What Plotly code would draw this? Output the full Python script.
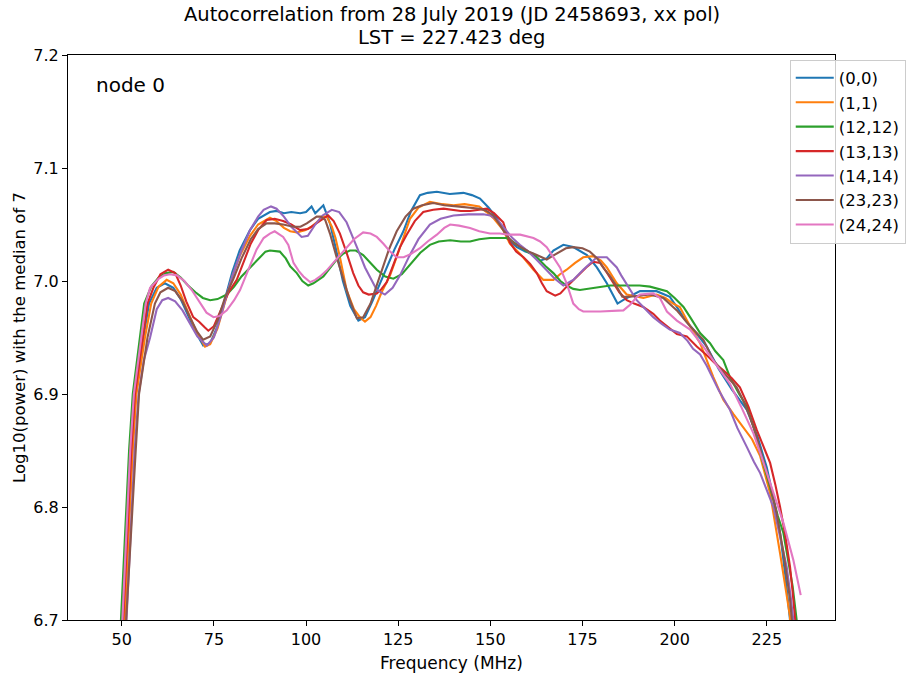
import plotly.graph_objects as go

# ---------------- data ----------------
labels = ["(0,0)", "(1,1)", "(12,12)", "(13,13)", "(14,14)", "(23,23)", "(24,24)"]
colors = ["#1f77b4", "#ff7f0e", "#2ca02c", "#d62728", "#9467bd", "#8c564b", "#e377c2"]

freq_0 = [50.3, 50.6, 52.8, 53.8, 55.9, 57.4, 59.5, 61.7, 64, 66, 68, 70, 72.1, 74, 76, 78, 80, 82, 84.8, 87, 90.2, 92, 94, 96, 98.4, 100, 101.5, 102.5, 103.5, 104.7, 105.5, 106.5, 108, 110, 112, 114.2, 116, 118, 121, 124, 126.4, 128.5, 130.9, 133, 135.5, 139, 142.7, 145, 147.2, 149.5, 151.7, 153.5, 155.3, 157.2, 159.5, 161.7, 163.5, 165.3, 167.1, 169.8, 172.5, 176.2, 178.9, 181.6, 184.5, 187, 190.6, 195.1, 198.7, 200.6, 203, 205.1, 208.7, 212, 215.5, 219.6, 222.5, 225, 227, 228.6, 230, 231.3, 231.6]
pow_0 = [6.68, 6.70, 6.85, 6.90, 6.95, 6.98, 6.994, 6.998, 6.994, 6.984, 6.970, 6.955, 6.943, 6.945, 6.960, 6.985, 7.008, 7.027, 7.045, 7.055, 7.061, 7.062, 7.060, 7.061, 7.060, 7.061, 7.066, 7.060, 7.063, 7.067, 7.060, 7.051, 7.030, 7.000, 6.978, 6.965, 6.968, 6.982, 7.005, 7.028, 7.044, 7.062, 7.076, 7.078, 7.079, 7.077, 7.078, 7.076, 7.073, 7.065, 7.056, 7.045, 7.035, 7.030, 7.026, 7.024, 7.018, 7.020, 7.027, 7.032, 7.030, 7.023, 7.012, 6.998, 6.980, 6.985, 6.991, 6.991, 6.986, 6.977, 6.965, 6.957, 6.942, 6.922, 6.904, 6.886, 6.862, 6.835, 6.805, 6.777, 6.74, 6.70, 6.68]

freq_1 = [50.5, 50.8, 53.0, 54.0, 56.3, 58.0, 60, 62.2, 64, 66, 68, 70, 72.6, 74, 76, 78, 80, 82, 84.8, 87, 90.2, 92, 94, 95.7, 97.5, 99.7, 101.5, 102.9, 104.5, 105.6, 107, 108, 109.2, 111, 113, 114.6, 116, 117.5, 119, 120.5, 122.8, 125, 128.2, 130.5, 133.6, 137, 140, 143, 145.4, 147, 149, 151, 153.5, 155.3, 158.1, 161.7, 164.4, 167.1, 168.9, 170.7, 173, 175.2, 177.9, 180, 181.6, 184.3, 187, 191.5, 195.1, 197.5, 199.6, 201.4, 204.2, 206.9, 210.5, 213.2, 216, 218.6, 221, 223.2, 225.9, 228.6, 230, 231.3, 231.5]
pow_1 = [6.68, 6.70, 6.85, 6.90, 6.95, 6.98, 6.995, 7.001, 6.998, 6.988, 6.973, 6.957, 6.942, 6.944, 6.958, 6.982, 7.004, 7.022, 7.040, 7.050, 7.056, 7.053, 7.047, 7.044, 7.043, 7.045, 7.048, 7.052, 7.057, 7.057, 7.048, 7.038, 7.021, 6.992, 6.975, 6.968, 6.964, 6.968, 6.978, 6.990, 7.005, 7.025, 7.055, 7.065, 7.070, 7.068, 7.067, 7.068, 7.067, 7.066, 7.061, 7.055, 7.045, 7.033, 7.024, 7.010, 7.001, 7.001, 7.006, 7.010, 7.016, 7.021, 7.022, 7.018, 7.012, 6.998, 6.988, 6.985, 6.988, 6.985, 6.980, 6.977, 6.960, 6.945, 6.915, 6.895, 6.882, 6.871, 6.860, 6.845, 6.812, 6.759, 6.730, 6.703, 6.68]

freq_12 = [49.5, 49.8, 52.0, 53.0, 55.0, 56.1, 58, 60, 62, 64, 66, 68, 70, 72, 74, 76, 78.5, 80.5, 82.5, 84.8, 87, 89, 90.2, 92.9, 94.5, 95.7, 97.5, 99, 100.6, 102, 104.7, 106.5, 108.3, 110, 111.9, 113.5, 115.5, 117.5, 119.2, 121.5, 123.7, 126, 128.2, 131, 133.6, 136, 139.1, 142, 144.5, 147, 149.9, 152.6, 154.4, 156, 158.1, 160, 162.6, 165, 167.1, 169, 170.7, 172.5, 174.3, 177.9, 182.5, 187.9, 190.5, 193.3, 195.5, 197.9, 200, 202.4, 204.2, 206.9, 209.6, 211, 213.2, 215, 217.5, 219.6, 221.5, 223.2, 225, 226.8, 228, 229.5, 231, 232, 233.1, 233.3]
pow_12 = [6.68, 6.70, 6.85, 6.90, 6.95, 6.98, 6.995, 7.003, 7.007, 7.008, 7.003, 6.996, 6.990, 6.985, 6.983, 6.984, 6.988, 6.995, 7.004, 7.012, 7.020, 7.026, 7.027, 7.026, 7.020, 7.013, 7.007, 7.000, 6.996, 6.998, 7.004, 7.012, 7.019, 7.024, 7.027, 7.027, 7.023, 7.016, 7.010, 7.004, 7.002, 7.006, 7.014, 7.025, 7.032, 7.035, 7.036, 7.035, 7.035, 7.037, 7.038, 7.038, 7.038, 7.035, 7.030, 7.026, 7.021, 7.013, 7.007, 7.000, 6.996, 6.993, 6.992, 6.994, 6.996, 6.996, 6.996, 6.995, 6.993, 6.991, 6.985, 6.977, 6.968, 6.954, 6.945, 6.938, 6.930, 6.915, 6.900, 6.889, 6.870, 6.848, 6.828, 6.806, 6.792, 6.777, 6.75, 6.73, 6.70, 6.68]

freq_13 = [50.1, 50.4, 52.6, 53.6, 55.7, 57.0, 58.6, 60.5, 62.6, 64.5, 66, 67.5, 69.4, 71, 72.5, 73.5, 75, 77, 79, 81.2, 83, 85, 87, 89.3, 91.5, 93.8, 96, 98.4, 100.5, 102.9, 104.5, 106, 107.5, 109.2, 111, 112.8, 114.2, 115.5, 117, 119.2, 120.5, 121.9, 124, 125.5, 127.3, 129.5, 131.8, 134.5, 137.3, 140, 142, 144.5, 147, 149, 151, 153.5, 154.5, 155.3, 157, 159, 160.8, 162.6, 164, 165.3, 167.6, 169, 170.7, 172.5, 174.3, 176, 177.9, 179.8, 181.5, 183.4, 185, 187, 189, 191.5, 194.2, 196, 198, 200.6, 203.3, 206, 208.5, 211, 213.2, 215.5, 217.7, 220, 222.3, 224, 225.9, 227.3, 228.6, 230, 231.3, 232, 232.7, 232.9]
pow_13 = [6.68, 6.70, 6.85, 6.90, 6.95, 6.98, 6.994, 7.006, 7.010, 7.007, 6.996, 6.982, 6.968, 6.964, 6.959, 6.956, 6.960, 6.975, 6.990, 7.001, 7.017, 7.033, 7.045, 7.054, 7.055, 7.053, 7.050, 7.045, 7.046, 7.051, 7.055, 7.058, 7.053, 7.042, 7.025, 7.007, 6.996, 6.990, 6.988, 6.989, 6.993, 6.999, 7.017, 7.030, 7.041, 7.053, 7.061, 7.063, 7.064, 7.063, 7.062, 7.062, 7.063, 7.064, 7.060, 7.052, 7.042, 7.034, 7.026, 7.021, 7.015, 7.007, 6.998, 6.991, 6.987, 6.989, 6.995, 7.001, 7.007, 7.012, 7.017, 7.016, 7.008, 6.998, 6.990, 6.983, 6.980, 6.977, 6.971, 6.965, 6.960, 6.953, 6.951, 6.942, 6.935, 6.927, 6.921, 6.914, 6.906, 6.889, 6.868, 6.855, 6.839, 6.82, 6.800, 6.775, 6.747, 6.725, 6.70, 6.68]

freq_14 = [50.9, 51.3, 53.5, 54.6, 56, 57.7, 59.5, 61, 62.6, 64.5, 66.5, 68.5, 70.5, 73.1, 75, 77, 78.5, 80.3, 82.5, 84.8, 87, 88.5, 90.5, 92, 94, 96, 98.8, 100.5, 102.5, 104.5, 107, 109, 111, 113.8, 116, 119.2, 121.4, 123.5, 125.5, 128, 130.5, 133.6, 136.5, 140, 144, 148.1, 150, 152, 154, 156, 158, 160, 162.5, 165.3, 167.5, 169.8, 172.5, 175.2, 178.9, 181.6, 184.3, 185.5, 187.5, 189.7, 191.5, 194.2, 196.5, 198.7, 201.4, 203.5, 205, 206.9, 208.7, 210.5, 212, 215, 217, 219.6, 221.5, 223.2, 225, 226.8, 228.5, 230.4, 231.5, 232.2, 232.4]
pow_14 = [6.68, 6.70, 6.85, 6.90, 6.93, 6.95, 6.975, 6.983, 6.985, 6.982, 6.974, 6.963, 6.951, 6.943, 6.950, 6.970, 6.988, 7.007, 7.027, 7.045, 7.057, 7.063, 7.066, 7.064, 7.057, 7.048, 7.039, 7.040, 7.050, 7.058, 7.063, 7.061, 7.052, 7.030, 7.012, 6.992, 6.988, 6.994, 7.005, 7.022, 7.037, 7.050, 7.055, 7.058, 7.059, 7.059, 7.058, 7.054, 7.046, 7.038, 7.032, 7.027, 7.019, 7.010, 7.002, 6.996, 7.001, 7.010, 7.021, 7.021, 7.012, 7.005, 6.995, 6.983, 6.977, 6.968, 6.962, 6.957, 6.954, 6.947, 6.940, 6.935, 6.925, 6.913, 6.903, 6.886, 6.870, 6.853, 6.840, 6.830, 6.815, 6.800, 6.775, 6.747, 6.72, 6.70, 6.68]

freq_23 = [50.9, 51.2, 53.8, 54.7, 57.0, 59, 60.5, 62.6, 64.5, 66.5, 68.5, 70.5, 72.1, 74, 76, 78, 80.3, 82.5, 85, 87, 89.3, 91.5, 93.8, 96.6, 98.5, 100.2, 102.9, 104, 105.2, 106.5, 108.3, 110, 111.9, 113.8, 115.5, 117.5, 120.1, 122.5, 124.6, 127, 129.1, 131.5, 134.5, 137.5, 140.9, 144, 147.2, 149, 150.8, 152.5, 154.5, 156.5, 158.1, 160.5, 162.6, 165.3, 166.8, 168.9, 170.5, 172.5, 175, 177, 179, 180.6, 182.5, 184.3, 185.8, 187.9, 190.5, 193.3, 196.9, 198.5, 200.6, 204.2, 207.8, 210.5, 213.5, 216.8, 218.5, 220.4, 222, 224, 226, 227.7, 229.5, 231.3, 231.8, 232]
pow_23 = [6.68, 6.70, 6.85, 6.90, 6.95, 6.98, 6.990, 6.994, 6.991, 6.982, 6.968, 6.955, 6.948, 6.951, 6.965, 6.985, 7.002, 7.020, 7.037, 7.046, 7.051, 7.051, 7.050, 7.048, 7.048, 7.051, 7.057, 7.057, 7.054, 7.042, 7.021, 7.002, 6.983, 6.967, 6.968, 6.980, 7.005, 7.028, 7.044, 7.057, 7.064, 7.067, 7.069, 7.067, 7.066, 7.065, 7.064, 7.062, 7.058, 7.050, 7.040, 7.033, 7.030, 7.026, 7.023, 7.019, 7.022, 7.026, 7.029, 7.030, 7.029, 7.026, 7.020, 7.012, 7.004, 6.995, 6.986, 6.986, 6.987, 6.988, 6.985, 6.980, 6.974, 6.960, 6.948, 6.930, 6.918, 6.906, 6.895, 6.880, 6.865, 6.842, 6.818, 6.794, 6.760, 6.718, 6.70, 6.68]

freq_24 = [49.9, 50.2, 52.3, 53.3, 55.4, 56.5, 57.7, 60, 61.5, 63.1, 65, 67, 69, 71, 73, 74.9, 76.5, 78.5, 80.5, 82.1, 84, 86.6, 88.5, 90.2, 91.5, 93.8, 95.2, 95.8, 96.6, 98, 99.3, 101.1, 102.5, 103.8, 105.5, 107.4, 109, 111, 113, 115.5, 117.5, 119.2, 121, 122.8, 124.6, 126.5, 128.5, 130.9, 133, 135.5, 137.5, 139.1, 141.5, 144.5, 147, 149.9, 152.6, 155, 158.1, 161.7, 163.5, 165.3, 167, 168.9, 170.7, 172.5, 174, 175.2, 179.8, 184.3, 186.1, 187.9, 189.5, 190.6, 194.2, 196, 197.9, 200.6, 204.2, 207.8, 210.5, 213, 215, 218, 221.4, 223.5, 225.9, 229.5, 232.2, 234.2]
pow_24 = [6.68, 6.70, 6.85, 6.90, 6.95, 6.98, 6.994, 7.002, 7.005, 7.006, 7.005, 7.000, 6.992, 6.982, 6.972, 6.968, 6.969, 6.974, 6.983, 6.992, 7.007, 7.028, 7.038, 7.042, 7.044, 7.039, 7.032, 7.026, 7.016, 7.009, 7.004, 6.999, 7.001, 7.004, 7.009, 7.016, 7.022, 7.030, 7.037, 7.043, 7.042, 7.039, 7.033, 7.026, 7.021, 7.021, 7.024, 7.029, 7.035, 7.041, 7.047, 7.050, 7.049, 7.047, 7.044, 7.042, 7.042, 7.041, 7.041, 7.038, 7.035, 7.030, 7.022, 7.012, 6.998, 6.980, 6.975, 6.973, 6.973, 6.974, 6.974, 6.979, 6.985, 6.988, 6.989, 6.985, 6.973, 6.965, 6.957, 6.942, 6.930, 6.918, 6.909, 6.889, 6.865, 6.845, 6.821, 6.786, 6.753, 6.722]

freqs = [freq_0, freq_1, freq_12, freq_13, freq_14, freq_23, freq_24]
powers = [pow_0, pow_1, pow_12, pow_13, pow_14, pow_23, pow_24]

x_ticks = [50, 75, 100, 125, 150, 175, 200, 225]
y_ticks = [6.7, 6.8, 6.9, 7.0, 7.1, 7.2]

title_line1 = "Autocorrelation from 28 July 2019 (JD 2458693, xx pol)"
title_line2 = "LST = 227.423 deg"
FONT = "DejaVu Sans"

# ---------------- figure ----------------
fig = go.Figure()
for i, (f, p) in enumerate(zip(freqs, powers)):
    fig.add_trace(go.Scatter(
        x=f, y=p, mode="lines", name=labels[i], legendgroup=labels[i],
        line=dict(color=colors[i], width=2.1),
    ))

axis_common = dict(
    showline=True, mirror=True, linecolor="black", linewidth=1.1,
    ticks="outside", ticklen=5, tickwidth=1.1, tickcolor="black",
    showgrid=False, zeroline=False, automargin=False,
    tickfont=dict(family=FONT, size=16, color="black"),
)

fig.update_layout(
    width=911, height=677,
    margin=dict(l=68, r=76, t=55, b=57, autoexpand=False),
    paper_bgcolor="white", plot_bgcolor="white",
    font=dict(family=FONT, size=16, color="black"),
    xaxis=dict(range=[35.43, 243.5], tickvals=x_ticks,
               title=dict(text="Frequency (MHz)", font=dict(family=FONT, size=17), standoff=8),
               **axis_common),
    yaxis=dict(range=[6.7, 7.2], tickvals=y_ticks, tickformat=".1f",
               title=dict(text="Log10(power) with the median of 7", font=dict(family=FONT, size=16.5), standoff=3),
               **axis_common),
    legend=dict(x=0.941, xanchor="left", y=0.992, yanchor="top",
                bordercolor="#cccccc", borderwidth=1, bgcolor="rgba(255,255,255,0.8)",
                font=dict(family=FONT, size=16.5), tracegroupgap=0, itemwidth=38),
    showlegend=True,
    annotations=[
        dict(text="node 0", x=0.034, y=0.947, xref="paper", yref="paper",
             xanchor="left", yanchor="middle", showarrow=False,
             font=dict(family=FONT, size=20, color="black")),
        dict(text=title_line1, x=0.5, y=1.0708, xref="paper", yref="paper",
             xanchor="center", yanchor="middle", showarrow=False,
             font=dict(family=FONT, size=19.5, color="black")),
        dict(text=title_line2, x=0.5, y=1.0301, xref="paper", yref="paper",
             xanchor="center", yanchor="middle", showarrow=False,
             font=dict(family=FONT, size=19.5, color="black")),
    ],
)

fig.write_html("out.html", config={"displayModeBar": False},
               post_script="document.body.style.margin='0px';")
